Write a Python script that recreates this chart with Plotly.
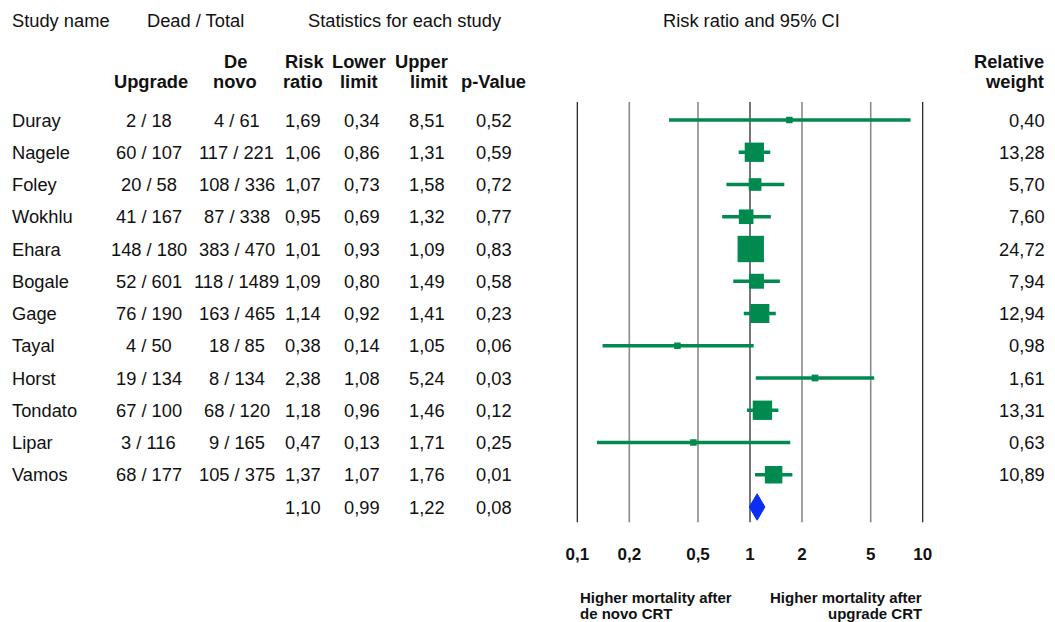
import math
import plotly.graph_objects as go

# ---------------- data ----------------
studies = ["Duray", "Nagele", "Foley", "Wokhlu", "Ehara", "Bogale", "Gage",
           "Tayal", "Horst", "Tondato", "Lipar", "Vamos"]
upgrade = ["2 / 18", "60 / 107", "20 / 58", "41 / 167", "148 / 180", "52 / 601",
           "76 / 190", "4 / 50", "19 / 134", "67 / 100", "3 / 116", "68 / 177"]
denovo = ["4 / 61", "117 / 221", "108 / 336", "87 / 338", "383 / 470", "118 / 1489",
          "163 / 465", "18 / 85", "8 / 134", "68 / 120", "9 / 165", "105 / 375"]
risk_ratio = [1.69, 1.06, 1.07, 0.95, 1.01, 1.09, 1.14, 0.38, 2.38, 1.18, 0.47, 1.37]
lower = [0.34, 0.86, 0.73, 0.69, 0.93, 0.80, 0.92, 0.14, 1.08, 0.96, 0.13, 1.07]
upper = [8.51, 1.31, 1.58, 1.32, 1.09, 1.49, 1.41, 1.05, 5.24, 1.46, 1.71, 1.76]
p_value = [0.52, 0.59, 0.72, 0.77, 0.83, 0.58, 0.23, 0.06, 0.03, 0.12, 0.25, 0.01]
weights = [0.40, 13.28, 5.70, 7.60, 24.72, 7.94, 12.94, 0.98, 1.61, 13.31, 0.63, 10.89]

pooled_rr, pooled_lo, pooled_hi, pooled_p = 1.10, 0.99, 1.22, 0.08

tick_vals = [0.1, 0.2, 0.5, 1, 2, 5, 10]
tick_labels = ["0,1", "0,2", "0,5", "1", "2", "5", "10"]
dark_lines = [0.1, 1, 10]
gray_lines = [0.2, 0.5, 2, 5]

# ---------------- styling ----------------
W, H = 1055, 622
FONT = "Arial, 'Liberation Sans', sans-serif"
GREEN = "#008A50"
BLUE = "#0A2EF5"
TXT = "#111111"
FS = 18.3


def fmt(v):
    return f"{v:.2f}".replace(".", ",")


def px(x):
    return x / W


def py(y):
    return 1 - y / H


n = len(studies)
rows = list(range(n))
pooled_row = n

fig = go.Figure()

# grid lines
line_top, line_bot = -0.56, 12.47
gx, gy = [], []
for v in gray_lines:
    gx += [v, v, None]
    gy += [line_top, line_bot, None]
fig.add_trace(go.Scatter(x=gx, y=gy, mode="lines",
                         line=dict(color="#8a8a8a", width=1.6), hoverinfo="skip"))
dx, dy = [], []
for v in dark_lines:
    dx += [v, v, None]
    dy += [line_top, line_bot, None]
fig.add_trace(go.Scatter(x=dx, y=dy, mode="lines",
                         line=dict(color="#1a1a1a", width=1.2), hoverinfo="skip"))

# CI lines
cx, cy = [], []
for i in rows:
    cx += [lower[i], upper[i], None]
    cy += [i, i, None]
fig.add_trace(go.Scatter(x=cx, y=cy, mode="lines",
                         line=dict(color=GREEN, width=3.5), hoverinfo="skip"))

# squares
sizes = [max(5.3 * math.sqrt(w), 6.5) for w in weights]
fig.add_trace(go.Scatter(x=risk_ratio, y=rows, mode="markers",
                         marker=dict(symbol="square", size=sizes, color=GREEN,
                                     opacity=1, line=dict(width=0)),
                         hoverinfo="skip"))

# pooled diamond
dh = 0.41
fig.add_trace(go.Scatter(
    x=[pooled_lo, pooled_rr, pooled_hi, pooled_rr, pooled_lo],
    y=[pooled_row, pooled_row - dh, pooled_row, pooled_row + dh, pooled_row],
    mode="lines", fill="toself", fillcolor=BLUE,
    line=dict(color=BLUE, width=1), hoverinfo="skip"))

# tick labels
fig.add_trace(go.Scatter(x=tick_vals, y=[13.52] * len(tick_vals), mode="text",
                         text=tick_labels,
                         textfont=dict(family=FONT, size=17, color=TXT),
                         texttemplate="<b>%{text}</b>", hoverinfo="skip"))

# ---------------- table text ----------------
def ann(x, y, text, xanchor="center", bold=False, size=FS, yref="y", xref="paper"):
    fig.add_annotation(x=x, y=y, xref=xref, yref=yref, text=f"<b>{text}</b>" if bold else text,
                       showarrow=False, xanchor=xanchor, yanchor="middle",
                       font=dict(family=FONT, size=size, color=TXT))


col_up, col_dn, col_rr, col_lo, col_hi, col_p, col_w = 148.5, 236.5, 302.5, 361.5, 427, 493.5, 1047

for i in rows:
    ann(px(10), i, studies[i], xanchor="left")
    ann(px(col_up), i, upgrade[i])
    ann(px(col_dn), i, denovo[i])
    ann(px(col_rr), i, fmt(risk_ratio[i]))
    ann(px(col_lo), i, fmt(lower[i]))
    ann(px(col_hi), i, fmt(upper[i]))
    ann(px(col_p), i, fmt(p_value[i]))
    ann(px(col_w), i, fmt(weights[i]), xanchor="right")

ann(px(col_rr), pooled_row, fmt(pooled_rr))
ann(px(col_lo), pooled_row, fmt(pooled_lo))
ann(px(col_hi), pooled_row, fmt(pooled_hi))
ann(px(col_p), pooled_row, fmt(pooled_p))

# headers
ann(px(10), py(20), "Study name", xanchor="left", yref="paper")
ann(px(195), py(20), "Dead / Total", yref="paper")
ann(px(405), py(20), "Statistics for each study", yref="paper")
ann(px(751), py(20), "Risk ratio and 95% CI", yref="paper")

y1, y2 = 61, 81
ann(px(151), py(y2), "Upgrade", bold=True, yref="paper")
ann(px(235), py(y1), "De", bold=True, yref="paper")
ann(px(235), py(y2), "novo", bold=True, yref="paper")
ann(px(304), py(y1), "Risk", bold=True, yref="paper")
ann(px(303), py(y2), "ratio", bold=True, yref="paper")
ann(px(359), py(y1), "Lower", bold=True, yref="paper")
ann(px(359), py(y2), "limit", bold=True, yref="paper")
ann(px(450), py(y1), "Upper", bold=True, xanchor="right", yref="paper")
ann(px(450), py(y2), "limit", bold=True, xanchor="right", yref="paper")
ann(px(493), py(y2), "p-Value", bold=True, yref="paper")
ann(px(1046), py(y1), "Relative", bold=True, xanchor="right", yref="paper")
ann(px(1046), py(y2), "weight", bold=True, xanchor="right", yref="paper")

# bottom labels
ann(px(578), py(597), "Higher mortality after", bold=True, xanchor="left", size=15, yref="paper")
ann(px(578), py(613), "de novo CRT", bold=True, xanchor="left", size=15, yref="paper")
ann(px(924), py(597), "Higher mortality after", bold=True, xanchor="right", size=15, yref="paper")
ann(px(924), py(613), "upgrade CRT", bold=True, xanchor="right", size=15, yref="paper")

# ---------------- layout ----------------
decade = (922.7 - 577.3) / 2
xr = [-1 - 577.3 / decade, 1 + (W - 922.7) / decade]
row_h = (507 - 120) / 12
yr = [(H - 120) / row_h, -120 / row_h]

fig.update_layout(
    width=W, height=H, autosize=False,
    margin=dict(l=0, r=0, t=0, b=0),
    paper_bgcolor="white", plot_bgcolor="white",
    showlegend=False,
    xaxis=dict(type="log", range=xr, visible=False, fixedrange=True),
    yaxis=dict(range=yr, visible=False, fixedrange=True),
)

fig.write_html("out.html", config={"displayModeBar": False},
               post_script="document.body.style.margin='0';document.body.style.overflow='hidden';")
